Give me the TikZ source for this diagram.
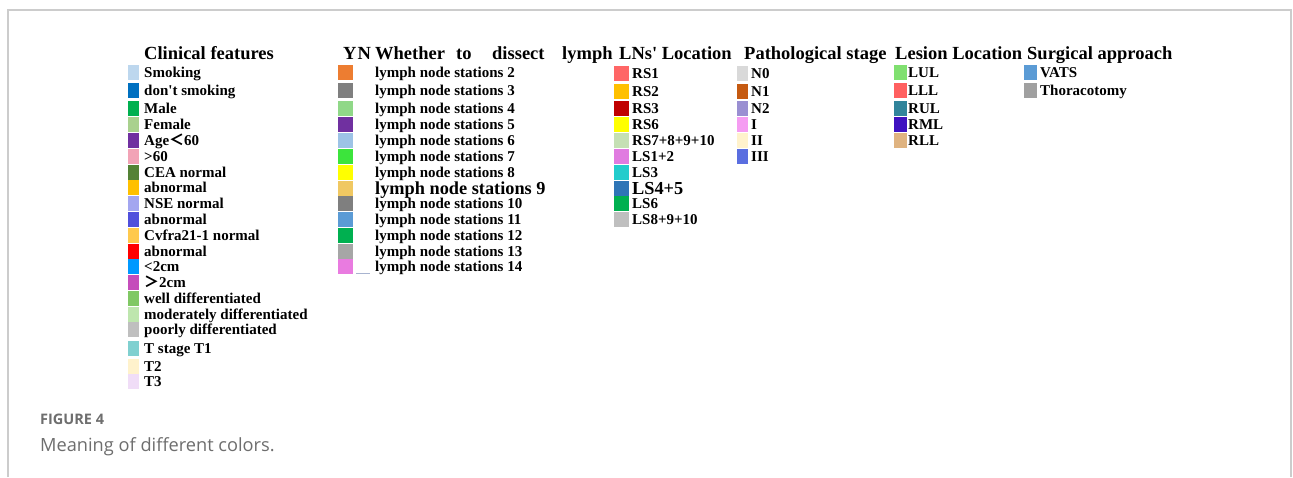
\documentclass[tikz,border=0pt]{standalone}
\usepackage{fontspec}
\setmainfont{Liberation Serif}
\newfontfamily\capfont{Open Sans}
\newfontfamily\cjk{Noto Sans CJK SC}
\newcommand{\wlt}{{\cjk ＜}}
\newcommand{\wgt}{{\cjk ＞}}

% clinical features
\definecolor{cfa}{HTML}{BDD7EE}\definecolor{cfb}{HTML}{0070C0}
\definecolor{cfc}{HTML}{00B050}\definecolor{cfd}{HTML}{A9D18E}
\definecolor{cfe}{HTML}{7030A0}\definecolor{cff}{HTML}{F2A3B6}
\definecolor{cfg}{HTML}{548235}\definecolor{cfh}{HTML}{FFC000}
\definecolor{cfi}{HTML}{A3A6F0}\definecolor{cfj}{HTML}{5050DC}
\definecolor{cfk}{HTML}{FFC94D}\definecolor{cfl}{HTML}{FF0000}
\definecolor{cfm}{HTML}{0099FF}\definecolor{cfn}{HTML}{C54DBB}
\definecolor{cfo}{HTML}{80C864}\definecolor{cfp}{HTML}{BEE6AE}
\definecolor{cfq}{HTML}{BFBFBF}\definecolor{cfr}{HTML}{80D0D0}
\definecolor{cfs}{HTML}{FFF2CC}\definecolor{cft}{HTML}{F0DDF7}
% lymph node stations
\definecolor{lna}{HTML}{ED7D31}\definecolor{lnb}{HTML}{7F7F7F}
\definecolor{lnc}{HTML}{90D888}\definecolor{lnd}{HTML}{7030A0}
\definecolor{lne}{HTML}{9DC3E6}\definecolor{lnf}{HTML}{3CE43C}
\definecolor{lng}{HTML}{FFFF00}\definecolor{lnh}{HTML}{F0C862}
\definecolor{lni}{HTML}{7F7F7F}\definecolor{lnj}{HTML}{5B9BD5}
\definecolor{lnk}{HTML}{00B050}\definecolor{lnl}{HTML}{A6A6A6}
\definecolor{lnm}{HTML}{E97BE0}
% LNs' location
\definecolor{loa}{HTML}{FF6666}\definecolor{lob}{HTML}{FFC000}
\definecolor{loc}{HTML}{C00000}\definecolor{lod}{HTML}{FFFF00}
\definecolor{loe}{HTML}{C5E0B4}\definecolor{lof}{HTML}{E07BE0}
\definecolor{log}{HTML}{22CCCC}\definecolor{loh}{HTML}{2E75B6}
\definecolor{loi}{HTML}{00B050}\definecolor{loj}{HTML}{BFBFBF}
% pathological stage
\definecolor{psa}{HTML}{D9D9D9}\definecolor{psb}{HTML}{C55A11}
\definecolor{psc}{HTML}{9A8FD2}\definecolor{psd}{HTML}{F59CF2}
\definecolor{pse}{HTML}{FFF2CC}\definecolor{psf}{HTML}{5A6EE0}
% lesion location
\definecolor{lla}{HTML}{80E070}\definecolor{llb}{HTML}{FF6060}
\definecolor{llc}{HTML}{31849B}\definecolor{lld}{HTML}{3E12C0}
\definecolor{lle}{HTML}{DFB380}
% surgical approach
\definecolor{saa}{HTML}{5B9BD5}\definecolor{sab}{HTML}{A0A0A0}

\definecolor{framegray}{HTML}{CCCCCC}
\definecolor{capgray}{HTML}{6E6E6E}
\definecolor{tickline}{HTML}{A8B4D0}

\tikzset{
  hd/.style={anchor=base west, inner sep=0pt, font=\fontsize{18.5}{18.5}\selectfont\bfseries},
  lbl/.style={anchor=base west, inner sep=0pt, font=\fontsize{15}{15}\selectfont\bfseries},
  biglbl/.style={anchor=base west, inner sep=0pt, font=\fontsize{18.3}{18.3}\selectfont\bfseries},
  swatch/.style={draw=none, inner sep=0pt, minimum height=15pt},
}

\begin{document}
\begin{tikzpicture}[x=1pt, y=-1pt]
\useasboundingbox (0,0) rectangle (1293,477);
\fill[white] (0,0) rectangle (1293,477);

% panel frame
\draw[framegray, line width=2pt] (8,477) -- (8,10) -- (1291,10) -- (1291,477);

% column headers
\node[hd] (h-cf) at (144,59) {Clinical features};
\node[hd] (h-yn) at (343,59) {Y\kern1pt N};
\node[hd] (h-w1) at (375,59) {Whether};
\node[hd] (h-w2) at (456,59) {to};
\node[hd] (h-w3) at (492,59) {dissect};
\node[hd] (h-w4) at (562,59) {lymph};
\node[hd] (h-lo) at (619,59) {LNs\textquotesingle{} Location};
\node[hd] (h-ps) at (744,59) {Pathological stage};
\node[hd] (h-ll) at (895,59) {Lesion Location};
\node[hd] (h-sa) at (1027,59) {Surgical approach};

% clinical features
\foreach \i/\y/\c/\t in {
  1/72/cfa/Smoking, 2/90/cfb/don\textquotesingle t smoking, 3/108/cfc/Male, 4/124/cfd/Female,
  5/140/cfe/Age\wlt60, 6/156/cff/>60, 7/172/cfg/CEA normal, 8/187/cfh/abnormal,
  9/203/cfi/NSE normal, 10/219/cfj/abnormal, 11/235/cfk/Cvfra21-1 normal,
  12/251/cfl/abnormal, 13/266/cfm/<2cm, 14/282/cfn/\wgt2cm,
  15/298/cfo/well differentiated, 16/314/cfp/moderately differentiated,
  17/329/cfq/poorly differentiated, 18/348/cfr/T stage T1, 19/366/cfs/T2, 20/381/cft/T3} {
  \node[swatch, fill=\c, minimum width=11pt] (cf-s\i) at (133.5,\y) {};
  \node[lbl] (cf-t\i) at (144,{\y+5}) {\t};
}

% lymph node stations
\foreach \i/\y/\c/\n in {
  1/72/lna/2, 2/90/lnb/3, 3/108/lnc/4, 4/124/lnd/5, 5/140/lne/6, 6/156/lnf/7,
  7/172/lng/8, 9/203/lni/10, 10/219/lnj/11, 11/235/lnk/12, 12/251/lnl/13, 13/266/lnm/14} {
  \node[swatch, fill=\c, minimum width=15pt] (ln-s\i) at (345,\y) {};
  \node[lbl] (ln-t\i) at (375,{\y+5}) {lymph node stations \n};
}
\node[swatch, fill=lnh, minimum width=15pt] (ln-s8) at (345,188) {};
\node[biglbl] (ln-t8) at (375,194) {lymph node stations 9};
\coordinate (ln-u1) at (356,273.5);
\coordinate (ln-u2) at (370,273.5);
\draw[tickline, line width=0.8pt] (ln-u1) -- (ln-u2);

% LNs' location
\foreach \i/\y/\c/\t in {
  1/73/loa/RS1, 2/91/lob/RS2, 3/108/loc/RS3, 4/124/lod/RS6, 5/140/loe/RS7+8+9+10,
  6/156/lof/LS1+2, 7/172/log/LS3, 9/203/loi/LS6, 10/219/loj/LS8+9+10} {
  \node[swatch, fill=\c, minimum width=15pt] (lo-s\i) at (621.5,\y) {};
  \node[lbl] (lo-t\i) at (632,{\y+5}) {\t};
}
\node[swatch, fill=loh, minimum width=15pt] (lo-s8) at (621.5,188) {};
\node[biglbl] (lo-t8) at (632,194) {LS4+5};

% pathological stage
\foreach \i/\y/\c/\t in {
  1/73/psa/N0, 2/91/psb/N1, 3/108/psc/N2, 4/124/psd/I, 5/140/pse/II, 6/156/psf/III} {
  \node[swatch, fill=\c, minimum width=11pt] (ps-s\i) at (742.5,\y) {};
  \node[lbl] (ps-t\i) at (751,{\y+5}) {\t};
}

% lesion location
\foreach \i/\y/\c/\t in {
  1/72/lla/LUL, 2/90/llb/LLL, 3/108/llc/RUL, 4/124/lld/RML, 5/140/lle/RLL} {
  \node[swatch, fill=\c, minimum width=13pt] (ll-s\i) at (900.5,\y) {};
  \node[lbl] (ll-t\i) at (908,{\y+5}) {\t};
}

% surgical approach
\foreach \i/\y/\c/\t in {1/72/saa/VATS, 2/90/sab/Thoracotomy} {
  \node[swatch, fill=\c, minimum width=13pt] (sa-s\i) at (1030.5,\y) {};
  \node[lbl] (sa-t\i) at (1040,{\y+5}) {\t};
}

% caption
\node[anchor=base west, inner sep=0pt, text=capgray, font=\capfont\bfseries\fontsize{14.5}{14.5}\selectfont] (cap-num) at (40,424) {FIGURE 4};
\node[anchor=base west, inner sep=0pt, text=capgray, font=\capfont\fontsize{18.2}{18.2}\selectfont] (cap-txt) at (40,451) {Meaning of different colors.};
\end{tikzpicture}
\end{document}
